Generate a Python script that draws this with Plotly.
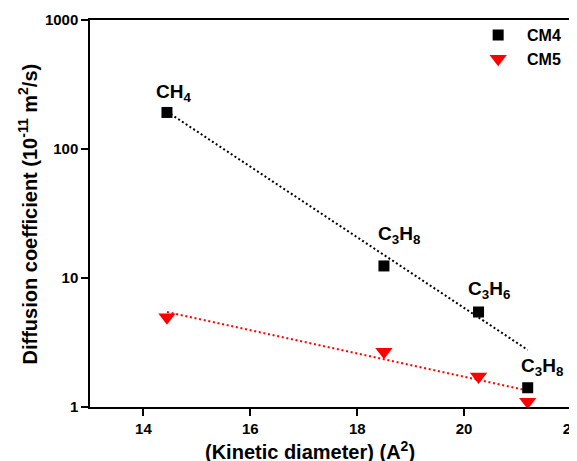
import numpy as np
import plotly.graph_objects as go

# data
gases = ["CH<sub>4</sub>", "C<sub>3</sub>H<sub>8</sub>", "C<sub>3</sub>H<sub>6</sub>", "C<sub>3</sub>H<sub>8</sub>"]
kinetic_diameter = [14.44, 18.50, 20.27, 21.19]
cm4 = [192, 12.4, 5.45, 1.41]
cm5 = [4.96, 2.68, 1.72, 1.10]

# fitted trend lines (end points)
fit_x = [14.44, 21.19]
fit_cm4 = [195, 2.77]
fit_cm5 = [5.45, 1.34]

# label anchor positions
label_x = [14.56, 18.79, 20.46, 21.45]
label_y = [272, 21.5, 8.07, 2.05]

x_ticks = [14, 16, 18, 20, 22]
x_minor = [13, 15, 17, 19, 21]
y_ticks = [1, 10, 100, 1000]
y_minor = [m * d for d in (1, 10, 100) for m in range(2, 10)]

FONT = "Arial, Liberation Sans, sans-serif"
NB = "\u00a0"

fig = go.Figure()
fig.add_trace(go.Scatter(x=fit_x, y=fit_cm4, mode="lines",
                         line=dict(color="black", width=2, dash="2px,2.5px"),
                         showlegend=False, hoverinfo="skip"))
fig.add_trace(go.Scatter(x=fit_x, y=fit_cm5, mode="lines",
                         line=dict(color="#ff0000", width=2, dash="2px,2.7px"),
                         showlegend=False, hoverinfo="skip"))
fig.add_trace(go.Scatter(x=kinetic_diameter, y=cm4, mode="markers", name=NB * 2 + "CM4",
                         marker=dict(symbol="square", size=11, color="black")))
fig.add_trace(go.Scatter(x=kinetic_diameter, y=cm5, mode="markers", name=NB * 2 + "CM5",
                         marker=dict(symbol="triangle-down", size=15, color="#ff0000")))

for t, lx, ly in zip(gases, label_x, label_y):
    fig.add_annotation(x=lx, y=np.log10(ly), yref="y", xref="x", text=t, showarrow=False,
                       font=dict(family=FONT, size=19, color="black", weight="bold"),
                       xanchor="center", yanchor="middle")

fig.add_annotation(xref="paper", yref="paper", x=-0.129, y=0.5,
                   text="Diffusion coefficient (10<sup>-11</sup> m<sup>2</sup>/s)",
                   textangle=-90, showarrow=False,
                   font=dict(family=FONT, size=20, color="black", weight="bold"),
                   xanchor="center", yanchor="middle")
fig.add_annotation(xref="paper", yref="paper", x=0.4568, y=-0.112,
                   text="(Kinetic diameter) (A<sup>2</sup>)", showarrow=False,
                   font=dict(family=FONT, size=20, color="black", weight="bold"),
                   xanchor="center", yanchor="middle")

axis_common = dict(showgrid=False, zeroline=False)
fig.update_layout(
    width=569, height=453,
    margin=dict(l=82, r=6, t=12, b=54, autoexpand=False),
    paper_bgcolor="white", plot_bgcolor="white",
    font=dict(family=FONT, size=15, color="black", weight="bold"),
    legend=dict(x=0.807, y=1.005, xanchor="left", yanchor="top",
                bgcolor="rgba(0,0,0,0)", font=dict(size=16, weight="bold")),
    xaxis=dict(range=[13, 22], tickvals=x_ticks, ticks="outside", ticklen=7, tickwidth=1.5,
               tickcolor="black", showline=True, linewidth=1.5, linecolor="black", mirror=True,
               ticklabeloverflow="allow", **axis_common),
    yaxis=dict(type="log", range=[0, 3], tickvals=y_ticks, ticktext=[str(v) for v in y_ticks],
               ticks="outside", ticklen=7, tickwidth=1.5, tickcolor="black",
               showline=True, linewidth=1.5, linecolor="black", mirror=True,
               **axis_common),
    xaxis2=dict(range=[13, 22], overlaying="x", anchor="y", side="bottom",
                tickvals=x_minor, ticks="outside", ticklen=4, tickwidth=1.5, tickcolor="black",
                showticklabels=False, showline=False, **axis_common),
    yaxis2=dict(type="log", range=[0, 3], overlaying="y", anchor="x", side="left",
                tickvals=y_minor, ticks="outside", ticklen=4, tickwidth=1.5, tickcolor="black",
                showticklabels=False, showline=False, **axis_common),
)

fig.write_html("out.html")
